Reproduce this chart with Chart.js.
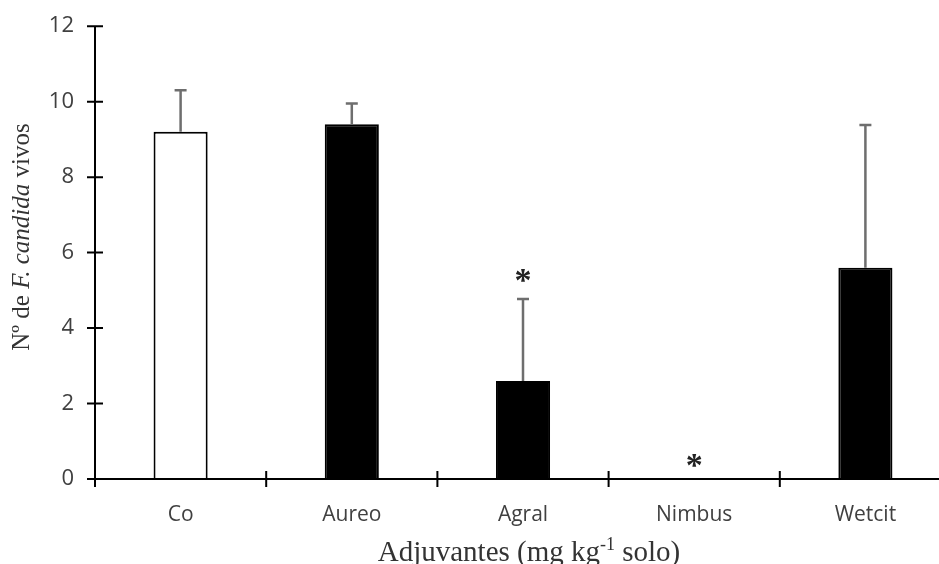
<!DOCTYPE html>
<html><head><meta charset="utf-8">
<script src="https://cdn.jsdelivr.net/npm/chart.js@4/dist/chart.umd.min.js"></script>
<style>html,body{margin:0;padding:0;overflow:hidden;background:#fff}#wrap{width:960px;height:564px}</style>
</head><body><div id="wrap"><canvas id="c" width="960" height="564"></canvas></div>
<script>
const categories = ['Co', 'Aureo', 'Agral', 'Nimbus', 'Wetcit'];
const meanValues = [9.2, 9.4, 2.6, 0, 5.6];
const errorTops = [10.3, 9.95, 4.77, 0, 9.38];
const sigMarks = ['', '', '*', '*', ''];
const sigLevels = [null, null, 5.4, 0.5, null];
const yTicks = [0, 2, 4, 6, 8, 10, 12];
const barFill = ['#ffffff', '#000000', '#000000', '#000000', '#000000'];

const axesPlugin = {
  id: 'axesPlugin',
  afterDatasetsDraw(chart) {
    const ctx = chart.ctx, a = chart.chartArea;
    const xs = chart.scales.x, ys = chart.scales.y;
    ctx.save();
    // error bars
    ctx.strokeStyle = '#6e6e6e'; ctx.lineWidth = 2.5;
    errorTops.forEach((t, i) => {
      if (t <= meanValues[i]) return;
      const x = xs.getPixelForValue(i);
      const y0 = ys.getPixelForValue(meanValues[i]);
      const y1 = ys.getPixelForValue(t);
      ctx.beginPath(); ctx.moveTo(x, y0); ctx.lineTo(x, y1);
      ctx.moveTo(x - 6, y1); ctx.lineTo(x + 6, y1); ctx.stroke();
    });
    // asterisks
    ctx.fillStyle = '#222'; ctx.font = 'bold 34px "Liberation Serif"'; ctx.textAlign = 'center'; ctx.textBaseline = 'alphabetic';
    sigMarks.forEach((m, i) => {
      if (!m) return;
      const mt = ctx.measureText(m);
      const off = (mt.actualBoundingBoxAscent - mt.actualBoundingBoxDescent) / 2;
      ctx.fillText(m, xs.getPixelForValue(i), ys.getPixelForValue(sigLevels[i]) + off);
    });
    // axes
    ctx.strokeStyle = '#000'; ctx.lineWidth = 2;
    ctx.beginPath();
    ctx.moveTo(a.left, ys.getPixelForValue(12)); ctx.lineTo(a.left, a.bottom + 8);
    ctx.moveTo(a.left, a.bottom); ctx.lineTo(chart.width, a.bottom);
    yTicks.forEach(v => { const y = ys.getPixelForValue(v); ctx.moveTo(a.left - 8, y); ctx.lineTo(a.left + 8, y); });
    const step = xs.getPixelForValue(1) - xs.getPixelForValue(0);
    for (let i = 1; i <= categories.length; i++) {
      const x = xs.getPixelForValue(i) - step / 2;
      ctx.moveTo(x, a.bottom - 8); ctx.lineTo(x, a.bottom + 8);
    }
    ctx.stroke();
    // y title
    ctx.fillStyle = '#333'; ctx.textBaseline = 'middle';
    const parts = [['Nº de ', ''], ['F. candida', 'italic '], [' vivos', '']];
    const fs = 25;
    let total = 0;
    parts.forEach(p => { ctx.font = p[1] + fs + 'px "Liberation Serif"'; total += ctx.measureText(p[0]).width; });
    ctx.translate(22, 237); ctx.rotate(-Math.PI / 2);
    let x = -total / 2; ctx.textAlign = 'left';
    parts.forEach(p => { ctx.font = p[1] + fs + 'px "Liberation Serif"'; ctx.fillText(p[0], x, 0); x += ctx.measureText(p[0]).width; });
    ctx.setTransform(1, 0, 0, 1, 0, 0);
    // x title
    const xp = [['Adjuvantes (mg kg', 29, 0], ['-1', 18, -11], [' solo)', 29, 0]];
    total = 0;
    xp.forEach(p => { ctx.font = p[1] + 'px "Liberation Serif"'; total += ctx.measureText(p[0]).width; });
    x = 529 - total / 2;
    ctx.textBaseline = 'alphabetic';
    xp.forEach(p => { ctx.font = p[1] + 'px "Liberation Serif"'; ctx.fillText(p[0], x, 561 + p[2]); x += ctx.measureText(p[0]).width; });
    ctx.restore();
  }
};

new Chart(document.getElementById('c'), {
  type: 'bar',
  data: {
    labels: categories,
    datasets: [{
      data: meanValues,
      backgroundColor: barFill,
      borderColor: '#000',
      borderWidth: 2,
      barPercentage: 0.316,
      categoryPercentage: 1
    }]
  },
  options: {
    responsive: false,
    animation: false,
    layout: { padding: { top: 12, right: 9, left: 0, bottom: 0 } },
    plugins: { legend: { display: false }, tooltip: { enabled: false } },
    scales: {
      x: {
        grid: { display: false }, border: { display: false },
        ticks: { color: '#404040', font: { family: 'Open Sans', size: 21 }, padding: 15 },
        afterFit(s) { s.height = 85; }
      },
      y: {
        min: 0, max: 12,
        grid: { display: false }, border: { display: false },
        ticks: { stepSize: 2, color: '#404040', font: { family: 'Open Sans', size: 22 }, padding: 13 },
        afterFit(s) { s.width = 95; }
      }
    }
  },
  plugins: [axesPlugin]
});
</script>
</body></html>
